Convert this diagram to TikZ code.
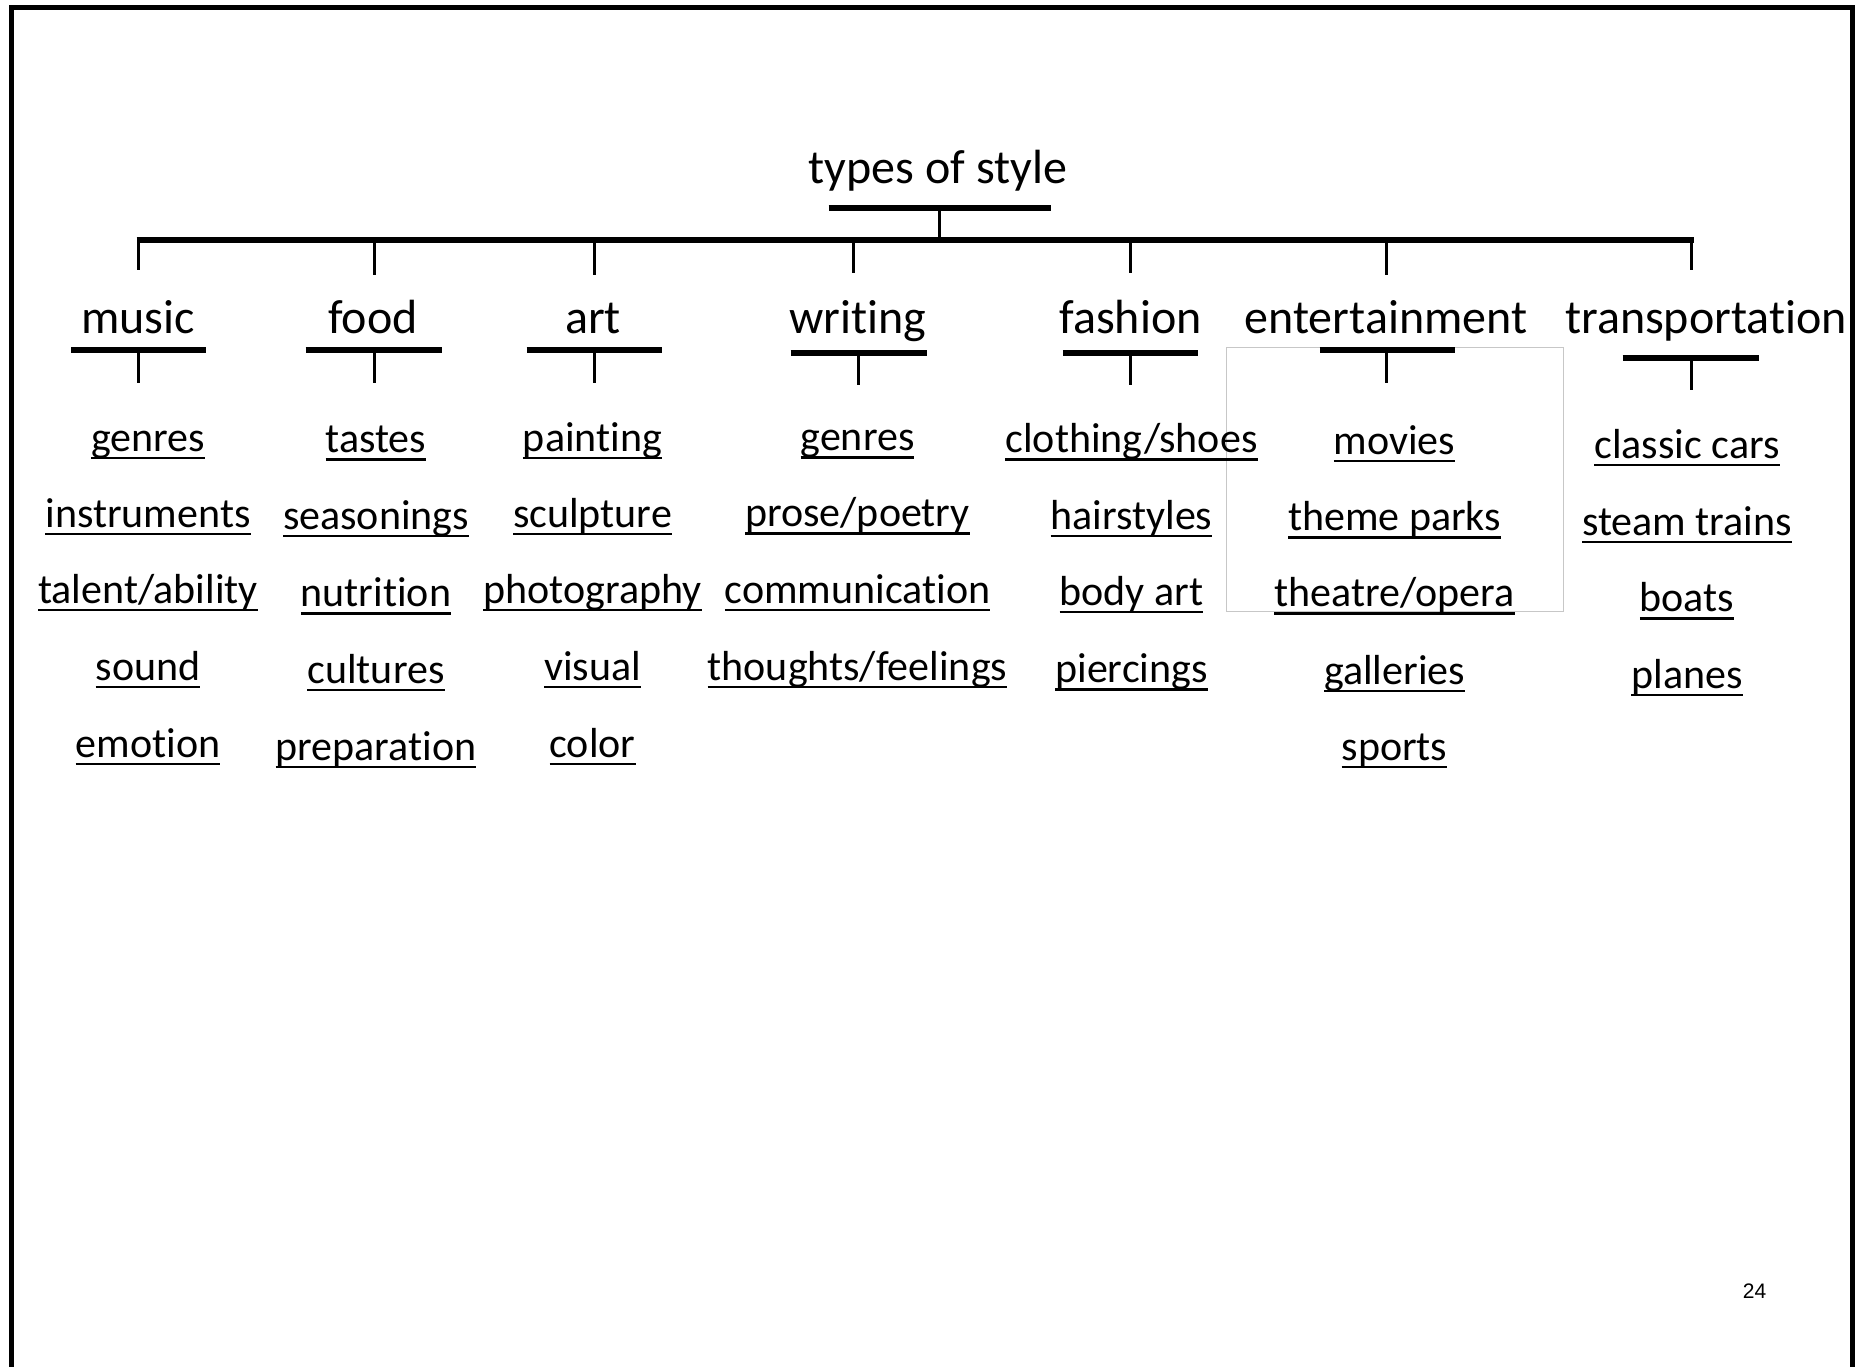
\documentclass[tikz,border=0pt]{standalone}
\usepackage{fontspec}
\setmainfont{Carlito}[Ligatures={NoCommon,NoContextual,NoRare}]
\newfontfamily\arialf{Liberation Sans}
\newsavebox\ulbox
\newcommand\ulx[1]{\sbox\ulbox{#1}\rlap{\rule[-4.2pt]{\wd\ulbox}{1.35pt}}\usebox\ulbox}
\begin{document}
\begin{tikzpicture}[x=0.5pt,y=-0.5pt,
  item/.style={anchor=base,inner sep=0pt,font=\fontsize{21}{25}\selectfont},
  cat/.style={anchor=base,inner sep=0pt,font=\fontsize{24}{29}\selectfont},
  barline/.style={line width=3pt},
  stemline/.style={line width=1.5pt},
  framebox/.style={line width=2.5pt,line join=miter},
  greybox/.style={draw=black!22,line width=0.5pt}]
\useasboundingbox (0,0) rectangle (1864,1366);
% frame
\coordinate (f1) at (11,1370);
\coordinate (f2) at (11,7);
\coordinate (f3) at (1852.5,7);
\coordinate (f4) at (1852.5,1370);
\draw[framebox] (f1) -- (f2) -- (f3) -- (f4);
% grey rectangle
\coordinate (g1) at (1226,347.5);
\coordinate (g2) at (1563.5,611);
\draw[greybox] (g1) rectangle (g2);
% root
\node[cat] (root) at (938,183) {types of style};
\coordinate (rb1) at (828.6,208);
\coordinate (rb2) at (1051,208);
\coordinate (rs) at (939,208);
\coordinate (hb) at (939,240);
\coordinate (hl) at (136.7,240);
\coordinate (hr) at (1694,240);
\draw[barline] (rb1) -- (rb2);
\draw[stemline] (rs) -- (hb);
\draw[barline] (hl) -- (hr);
% categories
\foreach \n/\lx/\lab/\dx/\dy/\ba/\bb/\by/\sx/\se in {
  music/138/music/138/270/71.3/205.7/350/138/383,
  food/373/food/374.5/275/305.5/442/350/374.5/383,
  art/593/art/594.4/275/526.6/662/350/594.4/383,
  writing/858/writing/853.6/272.7/790.5/927/353/858.3/385,
  fashion/1130.5/fashion/1130.5/272.7/1062.8/1198/353/1130.5/385,
  ent/1386/entertainment/1386/275/1319.6/1455/350/1386/383,
  trans/1706/transportation/1691.7/270/1622.7/1759.4/358/1691.7/390}{
  \node[cat] (\n-lab) at (\lx,333) {\lab};
  \coordinate (\n-d1) at (\dx,240);
  \coordinate (\n-d2) at (\dx,\dy);
  \coordinate (\n-b1) at (\ba,\by);
  \coordinate (\n-b2) at (\bb,\by);
  \coordinate (\n-s1) at (\sx,\by);
  \coordinate (\n-s2) at (\sx,\se);
  \draw[stemline] (\n-d1) -- (\n-d2);
  \draw[barline] (\n-b1) -- (\n-b2);
  \draw[stemline] (\n-s1) -- (\n-s2);
}
% items
\node[item] (m1) at (148,451) {\ulx{genres}};
\node[item] (m2) at (148,527) {\ulx{instruments}};
\node[item] (m3) at (148,603) {\ulx{talent/ability}};
\node[item] (m4) at (148,680) {\ulx{sound}};
\node[item] (m5) at (148,757) {\ulx{emotion}};
\node[item] (fo1) at (376,452.7) {\ulx{tastes}};
\node[item] (fo2) at (376,529) {\ulx{seasonings}};
\node[item] (fo3) at (376,606.7) {\ulx{nutrition}};
\node[item] (fo4) at (376,683) {\ulx{cultures}};
\node[item] (fo5) at (376,760) {\ulx{preparation}};
\node[item] (a1) at (592.5,451) {\ulx{painting}};
\node[item] (a2) at (592.5,527) {\ulx{sculpture}};
\node[item] (a3) at (592.5,603) {\ulx{photography}};
\node[item] (a4) at (592.5,680) {\ulx{visual}};
\node[item] (a5) at (592.5,757) {\ulx{color}};
\node[item] (w1) at (857.5,450.7) {\ulx{genres}};
\node[item] (w2) at (857.5,526.7) {\ulx{prose/poetry}};
\node[item] (w3) at (857.5,603) {\ulx{communication}};
\node[item] (w4) at (857.5,680) {\ulx{thoughts/feelings}};
\node[item] (fa1) at (1131.5,452.7) {\ulx{clothing/shoes}};
\node[item] (fa2) at (1131.5,529) {\ulx{hairstyles}};
\node[item] (fa3) at (1131.5,605) {\ulx{body art}};
\node[item] (fa4) at (1131.5,682.7) {\ulx{piercings}};
\node[item] (e1) at (1394.5,454) {\ulx{movies}};
\node[item] (e2) at (1394.5,530.7) {\ulx{theme parks}};
\node[item] (e3) at (1394.5,606.7) {\ulx{theatre/opera}};
\node[item] (e4) at (1394.5,684) {\ulx{galleries}};
\node[item] (e5) at (1394.5,760) {\ulx{sports}};
\node[item] (t1) at (1687,458) {\ulx{classic cars}};
\node[item] (t2) at (1687,535) {\ulx{steam trains}};
\node[item] (t3) at (1687,611.7) {\ulx{boats}};
\node[item] (t4) at (1687,688) {\ulx{planes}};
% page number
\node[anchor=base,inner sep=0pt,font=\arialf\fontsize{10.5}{12}\selectfont] (pg) at (1754.6,1298) {24};
\end{tikzpicture}
\end{document}
